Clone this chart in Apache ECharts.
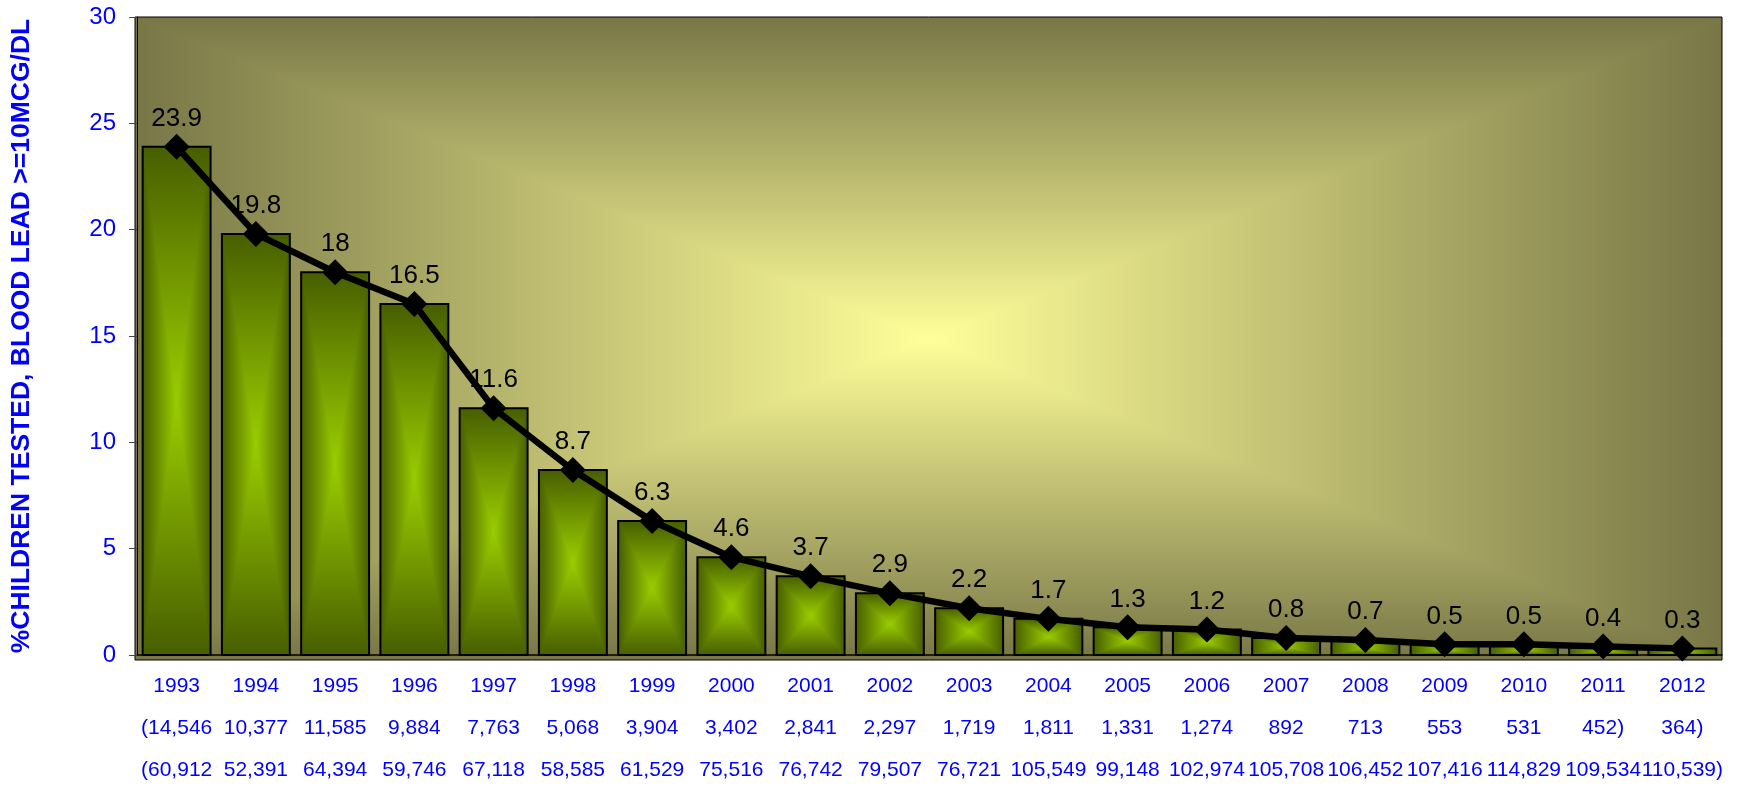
<!DOCTYPE html>
<html>
<head>
<meta charset="utf-8">
<script src="https://cdn.jsdelivr.net/npm/echarts@6/dist/echarts.min.js"></script>
<style>
html,body{margin:0;padding:0;background:#fff;}
#c{width:1737px;height:791px;}
</style>
</head>
<body>
<div id="c"></div>
<script>
const categories = ['1993','1994','1995','1996','1997','1998','1999','2000','2001','2002','2003','2004','2005','2006','2007','2008','2009','2010','2011','2012'];
const percentValues = [23.9,19.8,18,16.5,11.6,8.7,6.3,4.6,3.7,2.9,2.2,1.7,1.3,1.2,0.8,0.7,0.5,0.5,0.4,0.3];
const elevatedCounts = ['(14,546','10,377','11,585','9,884','7,763','5,068','3,904','3,402','2,841','2,297','1,719','1,811','1,331','1,274','892','713','553','531','452)','364)'];
const testedCounts = ['(60,912','52,391','64,394','59,746','67,118','58,585','61,529','75,516','76,742','79,507','76,721','105,549','99,148','102,974','105,708','106,452','107,416','114,829','109,534','110,539)'];
const yTicks = {min:0, max:30, interval:5};
const yName = '%CHILDREN TESTED, BLOOD LEAD >=10MCG/DL';

const chart = echarts.init(document.getElementById('c'));
const W = 1737, H = 791;
const G = {left:135, right:15, top:17, bottom:131};
const gx0 = G.left, gx1 = W - G.right, gy0 = G.top, gy1 = H - G.bottom;
const FONT = 'Liberation Sans, Arial, sans-serif';

function lg(x,y,x2,y2,stops){
  return new echarts.graphic.LinearGradient(x,y,x2,y2,stops);
}
// rectangular "from centre" gradient: base rect with horizontal dark-light-dark,
// top/bottom triangles with vertical gradient on top
function rectGradientParts(x0,y0,x1,y1,dark,light){
  const cx=(x0+x1)/2, cy=(y0+y1)/2;
  const two = [{offset:0,color:dark},{offset:1,color:light}];
  return [
    {type:'rect', shape:{x:x0,y:y0,width:x1-x0,height:y1-y0},
      style:{fill:lg(0,0,1,0,[{offset:0,color:dark},{offset:0.5,color:light},{offset:1,color:dark}])}},
    {type:'polygon', shape:{points:[[x0,y0],[x1,y0],[cx,cy]]}, style:{fill:lg(0,0,0,1,two)}},
    {type:'polygon', shape:{points:[[x0,y1],[x1,y1],[cx,cy]]}, style:{fill:lg(0,1,0,0,two)}}
  ];
}

const bgDark = '#787646', bgLight = '#ffff9a';
const bgParts = rectGradientParts(gx0,gy0,gx1,gy1,bgDark,bgLight).map(p=>Object.assign(p,{z:-5, silent:true}));

function renderBar(params, api){
  const idx = api.value(0), v = api.value(1);
  const top = api.coord([idx, v]);
  const base = api.coord([idx, 0]);
  const w = api.size([1,0])[0]*0.857;
  const x0 = top[0]-w/2, x1 = top[0]+w/2, y0 = top[1], y1 = base[1];
  const children = rectGradientParts(x0,y0,x1,y1,'#475e00','#9acd00');
  children.push({type:'rect', shape:{x:x0,y:y0,width:w,height:y1-y0}, style:{fill:'none', stroke:'#000', lineWidth:2}});
  return {type:'group', children:children};
}

chart.setOption({
  animation:false,
  backgroundColor:'#fff',
  textStyle:{fontFamily:FONT},
  graphic: bgParts.concat([
    {type:'rect', z:-4, silent:true, shape:{x:gx0,y:gy0,width:gx1-gx0,height:gy1-gy0}, style:{fill:'none', stroke:'#000', lineWidth:1}}
  ]),
  grid:{left:G.left, right:G.right, top:G.top, bottom:G.bottom, containLabel:false},
  xAxis:{
    type:'category', data:categories,
    axisLine:{show:true, lineStyle:{color:'#000', width:1.5}},
    axisTick:{show:false},
    axisLabel:{
      interval:0, hideOverlap:false, margin:10, color:'#0000ff', fontSize:21, lineHeight:42,
      fontFamily:FONT,
      formatter:function(val, i){ return val + '\n' + elevatedCounts[i] + '\n' + testedCounts[i]; }
    }
  },
  yAxis:{
    type:'value', min:yTicks.min, max:yTicks.max, interval:yTicks.interval,
    name:yName, nameLocation:'middle', nameRotate:90, nameGap:102,
    nameTextStyle:{color:'#0000ff', fontSize:26.5, fontWeight:'bold', fontFamily:FONT},
    axisLine:{show:true, lineStyle:{color:'#000', width:1}},
    axisTick:{show:true, inside:false, length:8, lineStyle:{color:'#444'}},
    splitLine:{show:false},
    axisLabel:{color:'#0000ff', fontSize:24, margin:21, fontFamily:FONT}
  },
  series:[
    {
      type:'custom', z:2,
      renderItem:renderBar,
      encode:{x:0, y:1},
      data:percentValues.map((v,i)=>[i,v])
    },
    {
      type:'line', z:5,
      data:percentValues,
      symbol:'diamond', symbolSize:26,
      itemStyle:{color:'#000'},
      lineStyle:{color:'#000', width:6.5},
      label:{show:true, position:'top', distance:2, color:'#000', fontSize:26, fontFamily:FONT}
    }
  ]
});
</script>
</body>
</html>
